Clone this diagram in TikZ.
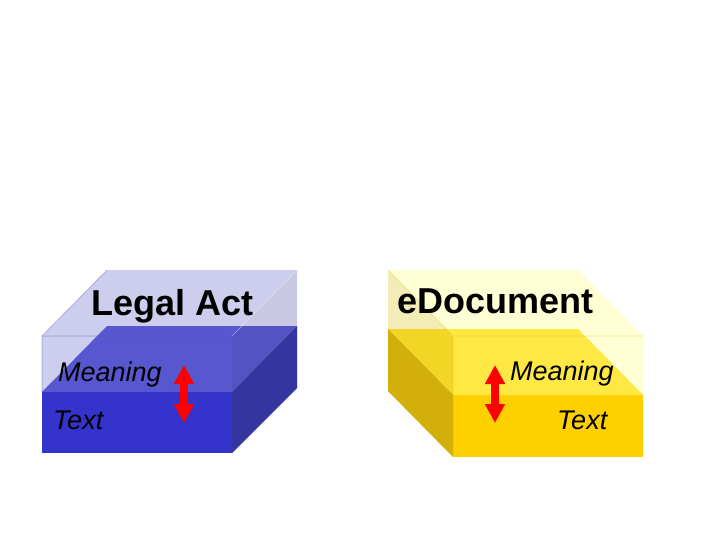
\documentclass[tikz,border=0pt]{standalone}
\usepackage{fontspec}
\setmainfont{Liberation Sans}
\usepackage{tikz}
\usetikzlibrary{arrows.meta}
\definecolor{actfront}{HTML}{3434CC}
\definecolor{acttop}{HTML}{5050D2}
\definecolor{actside}{HTML}{24249C}
\definecolor{actglass}{HTML}{6666CC}
\definecolor{actglassside}{HTML}{5A5AA8}
\definecolor{docfront}{HTML}{FFD000}
\definecolor{doctop}{HTML}{FFDC28}
\definecolor{docside}{HTML}{D0A400}
\definecolor{docglass}{HTML}{FFFF80}
\definecolor{docglassside}{HTML}{D8C820}
\tikzset{
  glass/.style={fill=#1, fill opacity=.32},
  glass edge/.style={draw=#1, line width=.6pt, draw opacity=.45},
  title/.style={font=\bfseries\fontsize{36}{40}\selectfont, anchor=base west, inner sep=0pt},
  layer/.style={font=\itshape\fontsize{27}{30}\selectfont, anchor=base west, inner sep=0pt},
  swap arrow/.style={draw=red, line width=8.5pt, {Triangle[length=19pt,width=19pt]}-{Triangle[length=19pt,width=19pt]}},
}

\begin{document}
\begin{tikzpicture}[x=1pt,y=-1pt]
  \useasboundingbox[fill=white] (0,0) rectangle (720,540);
  % Legal Act: solid block inside a glass block
  \fill[actfront] (42,392) rectangle (232,453);
  \fill[acttop] (42,392) -- (232,392) -- (297,326) -- (107,326) -- cycle;
  \fill[actside] (232,392) -- (297,326) -- (297,388) -- (232,453) -- cycle;
  \fill[glass=actglass] (42,336) rectangle (232,392);
  \fill[glass=actglass] (42,336) -- (232,336) -- (297,270) -- (107,270) -- cycle;
  \fill[glass=actglassside] (232,336) -- (297,270) -- (297,388) -- (232,453) -- cycle;
  \draw[glass edge=actglassside] (42,392) -- (42,336) -- (107,270) (42,336) -- (232,336);
  \draw[glass edge=white] (232,336) -- (297,270);
  % eDocument: same, seen from the other side
  \fill[docfront] (453,395) rectangle (643,457);
  \fill[doctop] (453,395) -- (643,395) -- (578,329) -- (388,329) -- cycle;
  \fill[docside] (453,395) -- (388,329) -- (388,391) -- (453,457) -- cycle;
  \fill[glass=docglass] (453,336) rectangle (643,395);
  \fill[glass=docglass] (453,336) -- (643,336) -- (578,270) -- (388,270) -- cycle;
  \fill[glass=docglassside] (453,336) -- (388,270) -- (388,391) -- (453,457) -- cycle;
  \draw[glass edge=docglassside] (453,395) -- (453,336) -- (388,270) (453,336) -- (643,336);
  % labels
  \node[title] (legal) at (91,315) {Legal Act};
  \node[title] (edoc) at (397,313) {eDocument};
  \node[layer] (meanL) at (58,381) {Meaning};
  \node[layer] (textL) at (53,429) {Text};
  \node[layer] (meanR) at (510,380) {Meaning};
  \node[layer] (textR) at (557,429) {Text};
  % meaning <-> text
  \coordinate (upL) at (184,365);
  \coordinate (downL) at (184,423);
  \coordinate (upR) at (495,365);
  \coordinate (downR) at (495,423);
  \draw[swap arrow] (upL) -- (downL);
  \draw[swap arrow] (upR) -- (downR);
\end{tikzpicture}
\end{document}
